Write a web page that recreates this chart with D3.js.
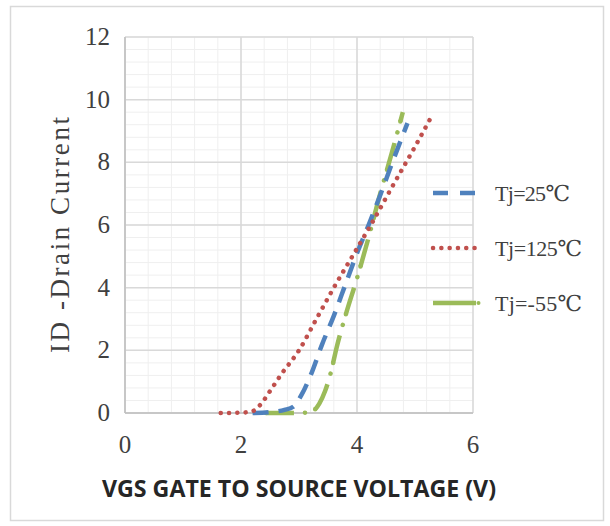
<!DOCTYPE html>
<html>
<head>
<meta charset="utf-8">
<script src="https://cdn.jsdelivr.net/npm/d3@7"></script>
<style>
  html, body { margin: 0; padding: 0; background: #fff; }
  svg { display: block; }
</style>
</head>
<body>
<svg id="chart" width="610" height="526"></svg>
<script>
// ---- data ----
const xTicks = [0, 2, 4, 6];
const yTicks = [0, 2, 4, 6, 8, 10, 12];
const seriesNames = ["Tj=25\u2103", "Tj=125\u2103", "Tj=-55\u2103"];

const vgs25  = [2.2, 2.5, 2.75, 2.9, 3.05, 3.2, 3.4, 3.6, 3.8, 4.0, 4.2, 4.4, 4.6, 4.87];
const id25   = [0.0, 0.03, 0.1, 0.2, 0.6, 1.2, 2.2, 3.1, 4.1, 5.1, 6.0, 6.95, 7.95, 9.25];

const vgs125 = [1.65, 2.0, 2.2, 2.35, 2.5, 2.7, 3.0, 3.3, 3.6, 4.0, 4.3, 4.6, 5.0, 5.31];
const id125  = [0.0, 0.01, 0.06, 0.3, 0.7, 1.25, 2.0, 3.0, 4.0, 5.25, 6.2, 7.2, 8.5, 9.55];

const vgsM55 = [2.43, 2.8, 3.1, 3.25, 3.35, 3.45, 3.55, 3.65, 3.8, 4.0, 4.2, 4.4, 4.6, 4.79];
const idM55  = [0.0, 0.0, 0.01, 0.08, 0.3, 0.7, 1.3, 2.1, 3.1, 4.3, 5.6, 7.0, 8.3, 9.6];

const xTitle = "VGS GATE TO SOURCE VOLTAGE (V)";
const yTitle = "ID -Drain Current";

// ---- drawing ----
const svg = d3.select("#chart");
const x = d3.scaleLinear().domain([0, 6]).range([125, 473]);
const y = d3.scaleLinear().domain([0, 12]).range([413, 37]);

// outer border
svg.append("rect").attr("x", 10.5).attr("y", 6.5).attr("width", 593).attr("height", 514)
  .attr("fill", "#fff").attr("stroke", "#d9d9d9").attr("stroke-width", 1.5);

// minor grid
const minorX = d3.range(0, 6.0001, 0.4).map(v => +v.toFixed(2));
const minorY = d3.range(0, 12.0001, 0.4).map(v => +v.toFixed(2));
const g = svg.append("g");
g.selectAll(".mx").data(minorX).join("line")
  .attr("x1", d => x(d)).attr("x2", d => x(d)).attr("y1", y(0)).attr("y2", y(12))
  .attr("stroke", "#efefef").attr("stroke-width", 1);
g.selectAll(".my").data(minorY).join("line")
  .attr("x1", x(0)).attr("x2", x(6)).attr("y1", d => y(d)).attr("y2", d => y(d))
  .attr("stroke", "#efefef").attr("stroke-width", 1);
// major grid
g.selectAll(".Mx").data(xTicks).join("line")
  .attr("x1", d => x(d)).attr("x2", d => x(d)).attr("y1", y(0)).attr("y2", y(12))
  .attr("stroke", "#d9d9d9").attr("stroke-width", 1.5);
g.selectAll(".My").data(yTicks).join("line")
  .attr("x1", x(0)).attr("x2", x(6)).attr("y1", d => y(d)).attr("y2", d => y(d))
  .attr("stroke", "#d9d9d9").attr("stroke-width", 1.5);
// axis lines
g.append("line").attr("x1", x(0)).attr("x2", x(0)).attr("y1", y(0)).attr("y2", y(12))
  .attr("stroke", "#bfbfbf").attr("stroke-width", 1.5);
g.append("line").attr("x1", x(0)).attr("x2", x(6)).attr("y1", y(0)).attr("y2", y(0))
  .attr("stroke", "#bfbfbf").attr("stroke-width", 1.5);

// tick labels
const tickFont = "'Liberation Serif', 'DejaVu Serif', serif";
svg.selectAll(".yt").data(yTicks).join("text")
  .attr("x", 110).attr("y", d => y(d) + 8)
  .attr("text-anchor", "end").attr("font-family", tickFont).attr("font-size", 25)
  .attr("fill", "#404040").text(d => d);
svg.selectAll(".xt").data(xTicks).join("text")
  .attr("x", d => x(d)).attr("y", 453)
  .attr("text-anchor", "middle").attr("font-family", tickFont).attr("font-size", 25)
  .attr("fill", "#404040").text(d => d);

// axis titles
svg.append("text")
  .attr("transform", "translate(69,235) rotate(-90)")
  .attr("text-anchor", "middle").attr("font-family", tickFont).attr("font-size", 27)
  .attr("fill", "#404040").attr("textLength", 236).attr("lengthAdjust", "spacing")
  .text(yTitle);
svg.append("text")
  .attr("x", 299).attr("y", 497)
  .attr("text-anchor", "middle").attr("font-family", "'Open Sans', 'Noto Sans', sans-serif")
  .attr("font-weight", "bold").attr("font-size", 23)
  .attr("fill", "#262626").attr("textLength", 394).attr("lengthAdjust", "spacingAndGlyphs")
  .text(xTitle);

// series
const colors = ["#4f81bd", "#c0504d", "#9bbb59"];
const dashes = ["16,10", "0.1,8.2", "28,11,0.1,11"];
const caps = ["butt", "round", "butt"];
const seriesData = [
  vgs25.map((v, i) => [v, id25[i]]),
  vgs125.map((v, i) => [v, id125[i]]),
  vgsM55.map((v, i) => [v, idM55[i]])
];
const line = d3.line().x(d => x(d[0])).y(d => y(d[1])).curve(d3.curveMonotoneX);

const order = [2, 0, 1];
order.forEach(i => {
  svg.append("path").datum(seriesData[i])
    .attr("d", line).attr("fill", "none")
    .attr("stroke", colors[i]).attr("stroke-width", 4.5)
    .attr("stroke-dasharray", dashes[i]).attr("stroke-linecap", caps[i]);
  if (i === 2) {
    svg.append("path").datum(seriesData[i])
      .attr("d", line).attr("fill", "none")
      .attr("stroke", colors[i]).attr("stroke-width", 4.5)
      .attr("stroke-dasharray", "0,39,0.1,11").attr("stroke-linecap", "round");
  }
});

// legend
const legY = [193, 248, 303];
const legW = [75, 87, 87];
seriesNames.forEach((name, i) => {
  svg.append("line").attr("x1", 433).attr("x2", i === 1 ? 481 : 476)
    .attr("y1", legY[i]).attr("y2", legY[i])
    .attr("stroke", colors[i]).attr("stroke-width", 4.5)
    .attr("stroke-dasharray", i === 0 ? "15,12" : (i === 1 ? "0.1,8.2" : "31,0"))
    .attr("stroke-linecap", caps[i]);
  if (i === 2) {
    svg.append("circle").attr("cx", 478.5).attr("cy", legY[i]).attr("r", 2)
      .attr("fill", colors[i]);
  }
  svg.append("text").attr("x", 495).attr("y", legY[i] + 8)
    .attr("font-family", tickFont).attr("font-size", 22)
    .attr("fill", "#404040").attr("textLength", legW[i]).attr("lengthAdjust", "spacing")
    .text(name);
});
</script>
</body>
</html>
